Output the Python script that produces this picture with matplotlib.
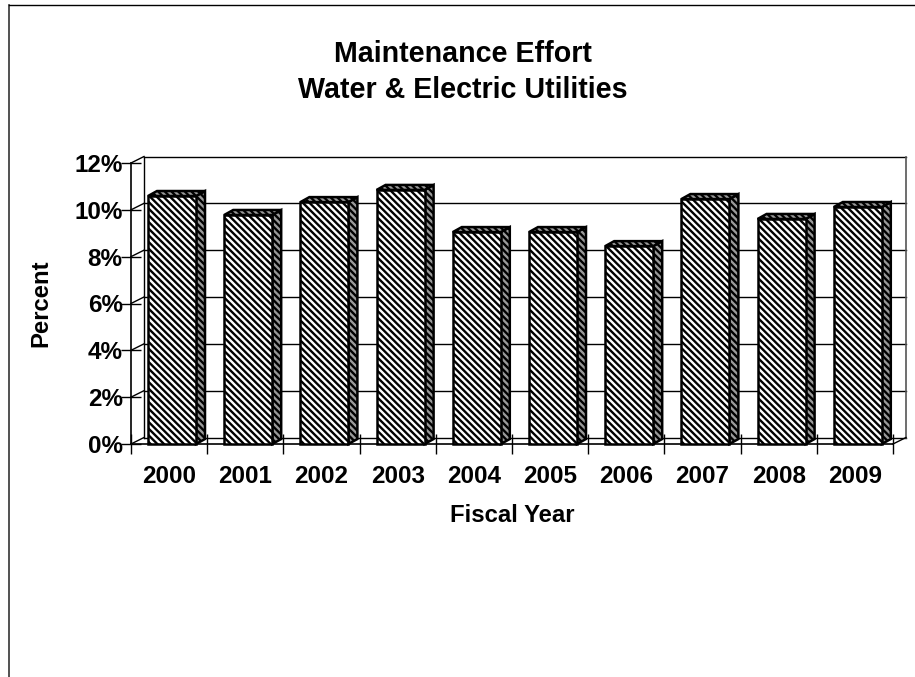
import numpy as np
import matplotlib
matplotlib.use('Agg')
import matplotlib.pyplot as plt
from matplotlib.patches import Polygon

plt.rcParams['font.family'] = ['Liberation Sans', 'DejaVu Sans']
plt.rcParams['hatch.linewidth'] = 1.7

years = ['2000', '2001', '2002', '2003', '2004', '2005', '2006', '2007', '2008', '2009']
percent = [10.59, 9.78, 10.33, 10.85, 9.05, 9.05, 8.45, 10.46, 9.61, 10.12]
y_ticks = [0, 2, 4, 6, 8, 10, 12]
y_labels = ['0%', '2%', '4%', '6%', '8%', '10%', '12%']

W, H = 915, 677
fig = plt.figure(figsize=(W / 100, H / 100), dpi=100)
ax = fig.add_axes([131 / W, 1 - 444 / H, 762 / W, 281 / H])
ax.set_xlim(0, 10)
ax.set_ylim(0, 12)
ax.patch.set_alpha(0)

# depth of the fake 3d box and of the bars, in data units
wall_dx = 13 / 76.2
wall_dy = 6.5 / 23.42
bar_dx = 9 / 76.2
bar_dy = 5 / 23.42
bar_w = 48 / 76.2
bar_gap = 17 / 76.2

for s in ['top', 'right']:
    ax.spines[s].set_visible(False)
for s in ['left', 'bottom']:
    ax.spines[s].set_linewidth(1.2)

# back wall, floor and grid
wall = dict(color='black', lw=1.0, clip_on=False, zorder=1)
for t in y_ticks:
    ax.plot([wall_dx, 10 + wall_dx], [t + wall_dy, t + wall_dy], **wall)
    ax.plot([0, wall_dx], [t, t + wall_dy], **wall)
ax.plot([wall_dx, wall_dx], [wall_dy, 12 + wall_dy], **wall)
ax.plot([10 + wall_dx, 10 + wall_dx], [wall_dy, 12 + wall_dy], color='#555555', lw=1.2, clip_on=False, zorder=1)
ax.plot([10, 10 + wall_dx], [0, wall_dy], **wall)

pos = np.arange(len(years)) + 0.5
left = np.arange(len(years)) + bar_gap
ax.bar(left, percent, width=bar_w, align='edge', facecolor='white', edgecolor='black',
       hatch='\\\\\\\\\\', linewidth=1.8, zorder=4, clip_on=False)
for x0, v in zip(left, percent):
    x1 = x0 + bar_w
    side = Polygon([(x1, 0), (x1 + bar_dx, bar_dy), (x1 + bar_dx, v + bar_dy), (x1, v)],
                   facecolor='#9a9a9a', edgecolor='black', hatch='\\\\\\\\\\', linewidth=1.8,
                   zorder=3, clip_on=False)
    top = Polygon([(x0, v), (x0 + bar_dx, v + bar_dy), (x1 + bar_dx, v + bar_dy), (x1, v)],
                  facecolor='#9a9a9a', edgecolor='black', hatch='\\\\\\\\\\', linewidth=1.8,
                  zorder=3, clip_on=False)
    ax.add_patch(side)
    ax.add_patch(top)

ax.set_xticks(np.arange(0, 11))
ax.set_xticks(pos, minor=True)
ax.set_xticklabels([])
ax.set_xticklabels(years, minor=True, fontsize=17.5, fontweight='bold')
ax.tick_params(axis='x', which='major', direction='inout', length=14, width=1.0)
ax.tick_params(axis='x', which='minor', length=0, pad=15)
ax.set_yticks(y_ticks)
ax.set_yticklabels(y_labels, fontsize=17.5, fontweight='bold')
ax.tick_params(axis='y', direction='inout', length=14, width=1.0, pad=-1)

ax.set_xlabel('Fiscal Year', fontsize=17.2, fontweight='bold', labelpad=12)
ax.set_ylabel('Percent', fontsize=17.2, fontweight='bold', labelpad=16)

fig.text(463 / W, 1 - 72 / H, 'Maintenance Effort\nWater & Electric Utilities',
         ha='center', va='center', fontsize=20.6, fontweight='bold', linespacing=1.34)

# outer chart frame, cut off by the image edge
fig.add_artist(plt.Line2D([9 / W, 9 / W], [0, 1 - 5 / H], color='#333333', lw=1.2))
fig.add_artist(plt.Line2D([9 / W, 1], [1 - 5 / H, 1 - 5 / H], color='black', lw=1.0))

fig.savefig('out.png', dpi=100)
